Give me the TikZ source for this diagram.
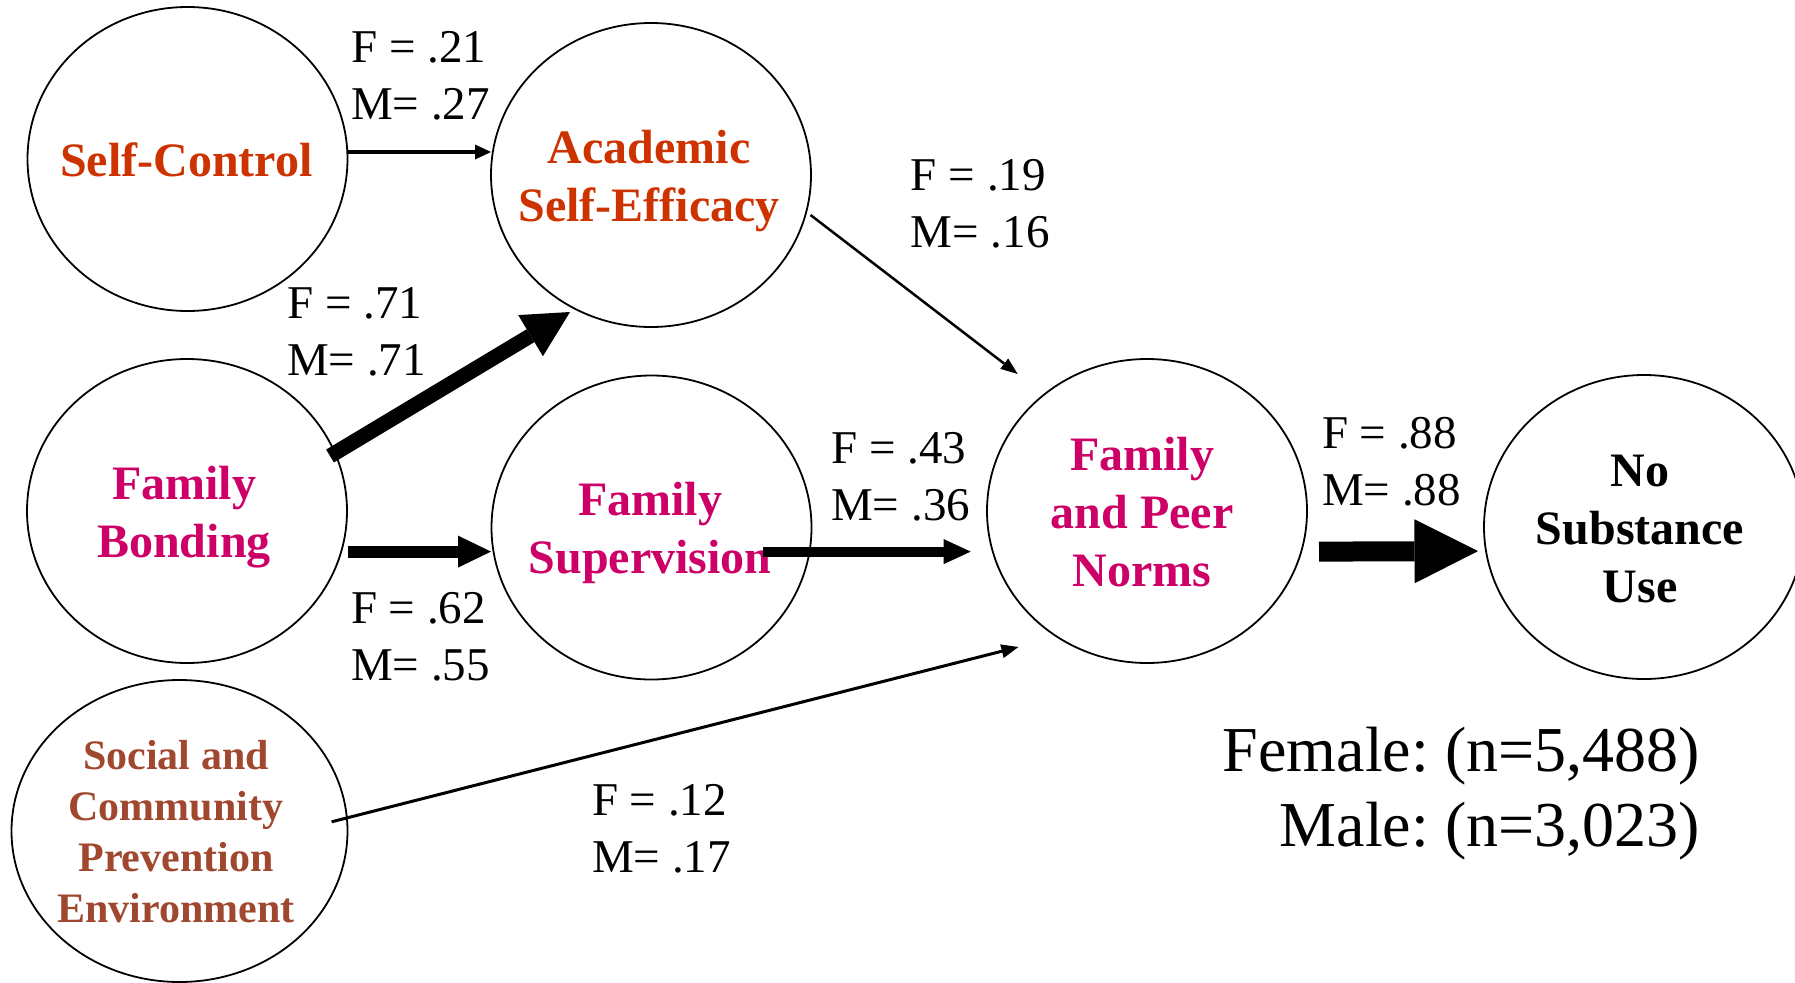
\documentclass[tikz,border=0pt]{standalone}
\usepackage{fontspec}
\setmainfont{Liberation Serif}
\usetikzlibrary{shapes.geometric,arrows.meta,calc}
\definecolor{selfred}{RGB}{204,51,0}
\definecolor{familyplum}{RGB}{204,0,102}
\definecolor{socialbrown}{RGB}{160,72,47}

\begin{document}
\frenchspacing
\begin{tikzpicture}[x=1pt,y=-1pt,
  oval/.style={ellipse, draw=black, line width=1.8pt, inner sep=0pt,
    minimum width=320pt, minimum height=304pt},
  title/.style={anchor=base, inner sep=0pt, text width=330pt, align=flush center,
    font=\fontsize{48}{58}\selectfont\bfseries},
  coef/.style={anchor=base west, inner sep=0pt, text width=170pt, align=flush left,
    font=\fontsize{47}{57}\selectfont},
  note/.style={anchor=base east, inner sep=0pt, text width=520pt, align=flush right,
    font=\fontsize{64}{74.6}\selectfont},
  path/.style={draw=black},
]
% canvas
\useasboundingbox (0,0) rectangle (1795,982);
\clip (0,0) rectangle (1795,982);
\fill[white] (0,0) rectangle (1795,982);

% constructs
\node[oval] (sc)  at (187.5,159)   {};
\node[oval] (ase) at (651,175)     {};
\node[oval] (fb)  at (187,511)     {};
\node[oval] (fs)  at (651.5,527.5) {};
\node[oval, minimum width=336pt, minimum height=302pt] (soc) at (179.5,831) {};
\node[oval] (fpn) at (1147,511)    {};
\node[oval] (nsu) at (1644,527)    {};

% construct names
\node[title, text=selfred]    (sc-t)  at (186.5,176.7) {Self-Control};
\node[title, text=selfred]    (ase-t) at (649,163)     {Academic\\Self-Efficacy};
\node[title, text=familyplum] (fb-t)  at (184,499)     {Family\\Bonding};
\node[title, text=familyplum] (fs-t)  at (650,515)     {Family\\Supervision};
\node[title, text=familyplum] (fpn-t) at (1142,470)    {Family\\and Peer\\Norms};
\node[title]                  (nsu-t) at (1640,486)    {No\\Substance\\Use};
\node[title, text=socialbrown, font=\fontsize{42}{51}\selectfont\bfseries]
  (soc-t) at (176,769.4) {Social and\\Community\\Prevention\\Environment};

% path coefficients
\node[coef] (c-sc)  at (351,62.7)    {F = .21\\M= .27};
\node[coef] (c-fb)  at (287,318)     {F = .71\\M= .71};
\node[coef] (c-ase) at (910.7,190.7) {F = .19\\M= .16};
\node[coef] (c-fs)  at (831,463.7)   {F = .43\\M= .36};
\node[coef] (c-fbs) at (350.8,623.4) {F = .62\\M= .55};
\node[coef] (c-soc) at (591.8,815)   {F = .12\\M= .17};
\node[coef] (c-fpn) at (1321.8,448)  {F = .88\\M= .88};

% sample sizes
\node[note] (n) at (1700,771.4) {Female: (n=5,488)\\Male: (n=3,023)};

% paths
\draw[path, line width=3.5pt, -{Triangle[length=16pt,width=15pt,line width=0pt]}]
  ($(sc.center)+(159.8,-7)$) -- ($(ase.center)+(-160,-23)$);
\draw[path, line width=15pt, -{Triangle[length=46pt,width=48pt,line width=0pt]}]
  ($(fb.center)+(143,-55)$) -- ($(ase.center)+(-81,137)$);
\draw[path, line width=12pt, -{Triangle[length=33pt,width=32pt,line width=0pt]}]
  ($(fb.center)+(160.6,40.6)$) -- ($(fs.center)+(-160.5,24.1)$);
\draw[path, line width=10pt, -{Triangle[length=27pt,width=25pt,line width=0pt]}]
  ($(fs.center)+(111.5,24.1)$) -- ($(fpn.center)+(-176.3,40.6)$);
\draw[path, line width=20pt, -{Triangle[length=63.5pt,width=64pt,line width=0pt]}]
  ($(fpn.center)+(172,40.6)$) -- ($(nsu.center)+(-166,24.1)$);
\draw[path, line width=2.5pt, -{Triangle[length=17pt,width=13pt,line width=0pt]}]
  ($(ase.center)+(159.5,40)$) -- ($(fpn.center)+(-129.3,-137)$);
\draw[path, line width=3pt, -{Triangle[length=17pt,width=14pt,line width=0pt]}]
  ($(soc.center)+(152.1,-9.2)$) -- ($(fpn.center)+(-128.6,136)$);
\end{tikzpicture}
\end{document}
